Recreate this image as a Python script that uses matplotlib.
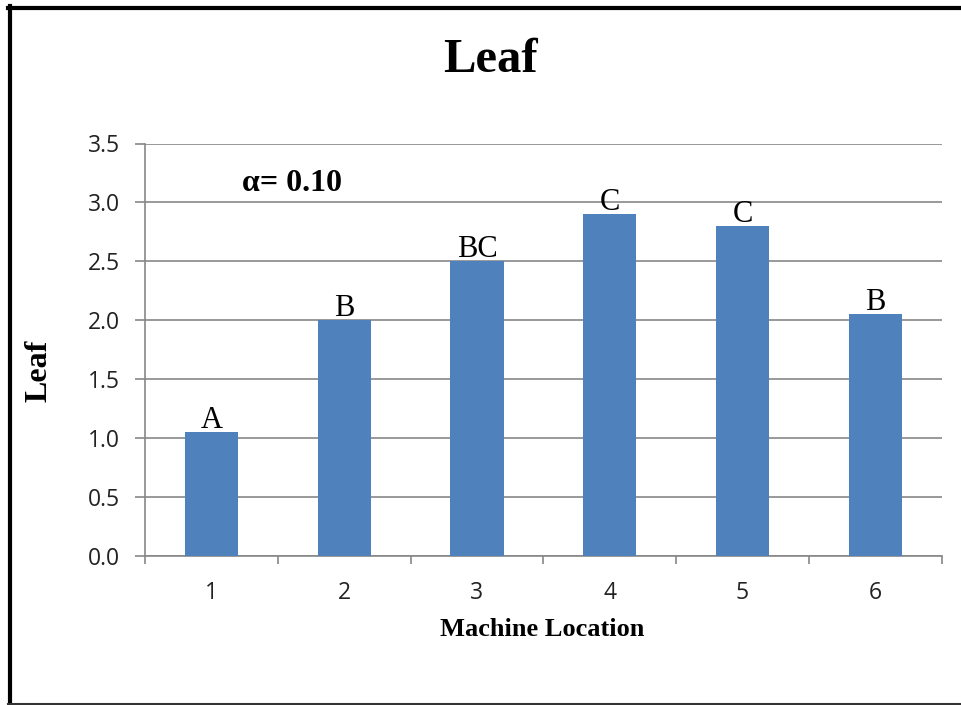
import matplotlib
matplotlib.use("Agg")
import matplotlib.pyplot as plt
from matplotlib.lines import Line2D
from matplotlib.ticker import MultipleLocator, FixedLocator

locations = [1, 2, 3, 4, 5, 6]
tick_labels = ["1", "2", "3", "4", "5", "6"]
leaf_values = [1.05, 2.0, 2.5, 2.9, 2.8, 2.05]
group_letters = ["A", "B", "BC", "C", "C", "B"]

serif = "Liberation Serif"
sans = "Open Sans"
grid_color = "#878787"
bar_color = "#4F81BD"

fig = plt.figure(figsize=(9.62, 7.05), dpi=100)
W, H = 962, 705
ax = fig.add_axes([145 / W, 1 - 555.7 / H, (941.7 - 145) / W, (555.7 - 143.5) / H])

ax.bar(locations, leaf_values, width=0.4, color=bar_color, zorder=3)

ax.set_xlim(0.5, 6.5)
ax.set_ylim(0, 3.5)
ax.yaxis.set_major_locator(MultipleLocator(0.5))
ax.yaxis.set_major_formatter(matplotlib.ticker.FormatStrFormatter("%.1f"))
ax.set_xticks(locations)
ax.set_xticklabels(tick_labels)
ax.xaxis.set_minor_locator(FixedLocator([x + 0.5 for x in [0] + locations]))

ax.grid(axis="y", color=grid_color, linewidth=1.2, zorder=0)
for s in ["top", "right"]:
    ax.spines[s].set_visible(False)
for s in ["left", "bottom"]:
    ax.spines[s].set_color(grid_color)
    ax.spines[s].set_linewidth(1.2)

ax.tick_params(axis="y", which="major", direction="out", length=7.2, width=1.2,
               color=grid_color, pad=11, labelsize=16.5, labelcolor="#222222")
ax.tick_params(axis="x", which="major", length=0, pad=18, labelsize=16.5, labelcolor="#222222")
ax.tick_params(axis="x", which="minor", direction="out", length=5.8, width=1.2, color=grid_color)
for lab in ax.get_xticklabels() + ax.get_yticklabels():
    lab.set_fontfamily(sans)

for x, v, letter in zip(locations, leaf_values, group_letters):
    ax.annotate(letter, xy=(x, v), xytext=(0, 3), textcoords="offset points",
                ha="center", va="baseline", fontsize=22, fontfamily=serif, color="black")

ax.text(0.122, 0.885, "α= 0.10", transform=ax.transAxes, ha="left", va="baseline",
        fontsize=23, fontweight="bold", fontfamily=serif)

ax.set_ylabel("Leaf", fontsize=23, fontweight="bold", fontfamily=serif)
ax.yaxis.set_label_coords(-0.133, 0.448)
ax.set_xlabel("Machine Location", fontsize=19, fontweight="bold", fontfamily=serif)
ax.xaxis.set_label_coords(0.498, -0.18)
ax.xaxis.label.set_va("center")
ax.yaxis.label.set_va("center")

fig.text(490 / W, 1 - 72 / H, "Leaf", ha="center", va="baseline",
         fontsize=35, fontweight="bold", fontfamily=serif)

# outer frame
fig.add_artist(Line2D([8 / W, 1.0], [1 - 7.5 / H] * 2, transform=fig.transFigure, color="black", linewidth=3))
fig.add_artist(Line2D([9.5 / W] * 2, [1 - 6 / H, 0.0], transform=fig.transFigure, color="black", linewidth=3))
fig.add_artist(Line2D([8 / W, 1.0], [1 - 704 / H] * 2, transform=fig.transFigure, color="#333333", linewidth=1.5))

fig.savefig("out.png", dpi=100)
